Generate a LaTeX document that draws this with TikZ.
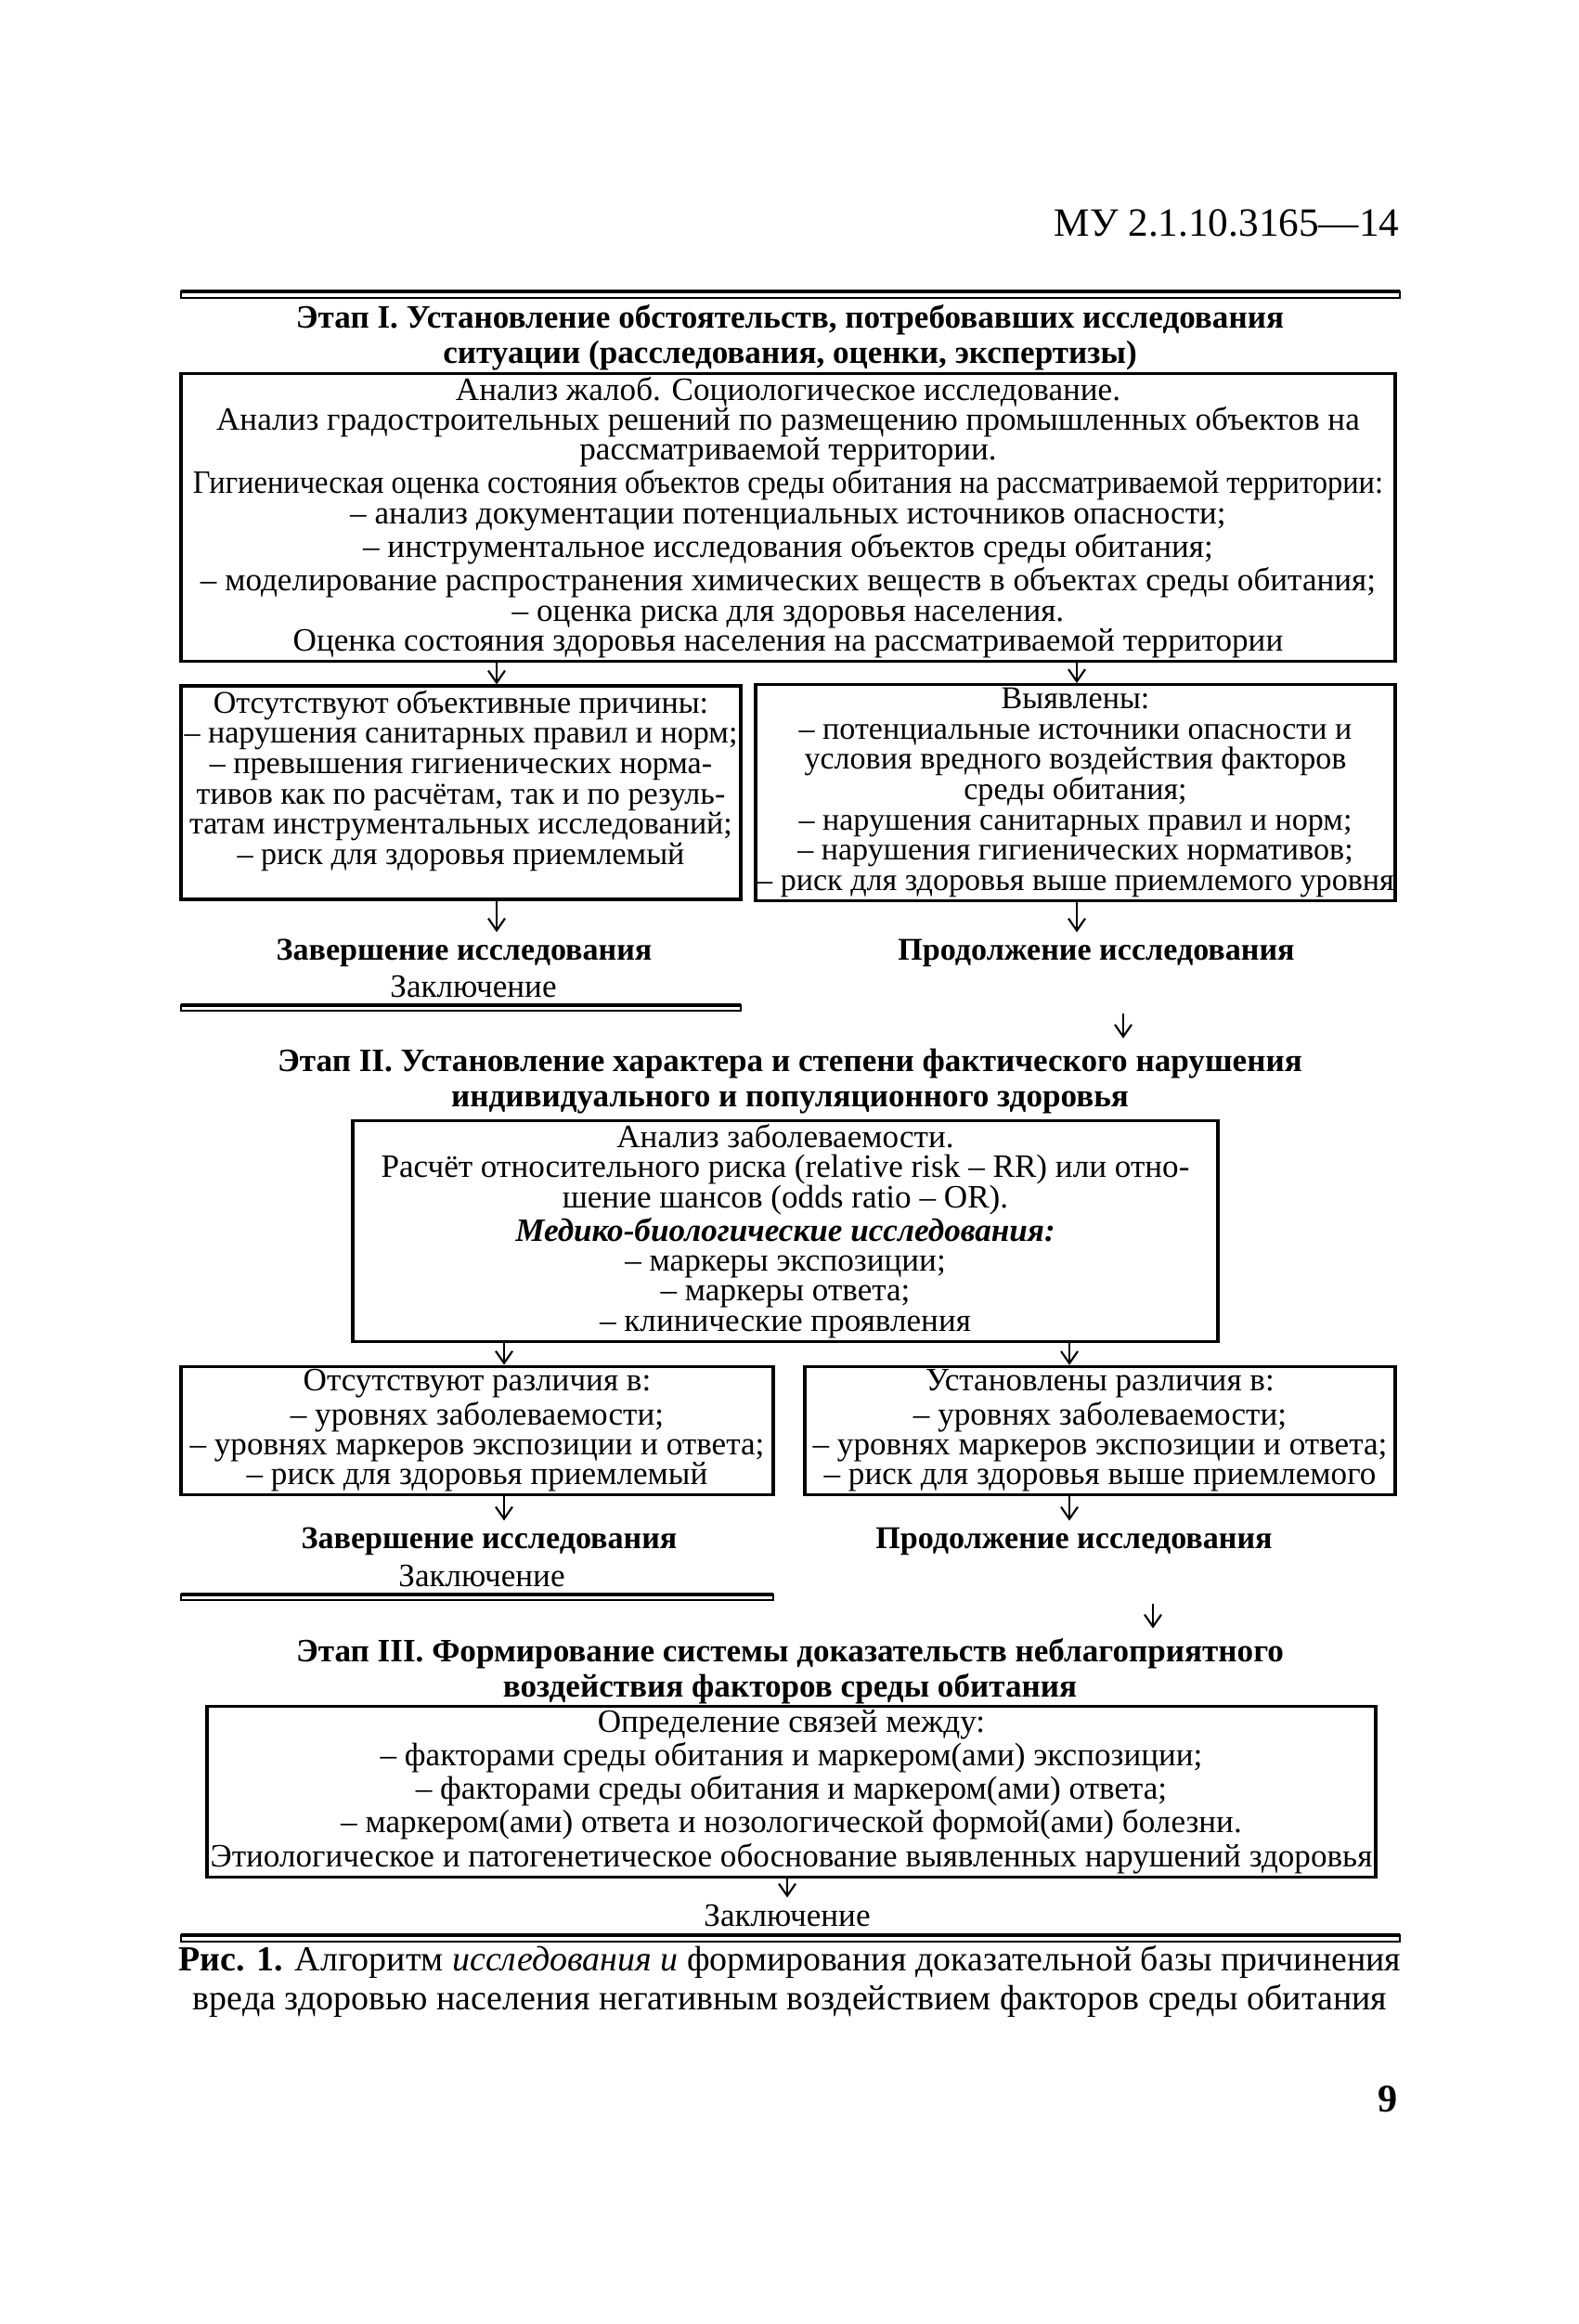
\documentclass[tikz,border=0pt]{standalone}
\usepackage{fontspec}
\setmainfont{Liberation Serif}
\usepackage{graphicx}
\usetikzlibrary{arrows.meta,positioning}

\begin{document}
\begin{tikzpicture}[
 block/.style={draw,line width=0.9pt,align=center,inner sep=1pt,
 font=\fontsize{10}{9.2}\selectfont},
 stage/.style={align=center,inner sep=0pt,font=\fontsize{10}{10.8}\selectfont\bfseries},
 note/.style={inner sep=0pt,font=\fontsize{10}{10}\selectfont},
 rulebar/.style={draw,line width=0.5pt},
 flow/.style={-{Straight Barb[length=1.3mm,width=1.8mm]},line width=0.6pt}]
\useasboundingbox (0,0) rectangle (17,-25.04);
% columns of the arrows
\coordinate (colA) at (5.35,0);
\coordinate (colB) at (11.60,0);
\coordinate (colC) at (5.43,0);
\coordinate (colD) at (11.52,0);
\coordinate (colE) at (8.48,0);

\node[note,anchor=east,font=\fontsize{12.3}{13}\selectfont] (docno) at (15.08,-2.40) {МУ 2.1.10.3165—14};
\draw[rulebar] (1.95,-3.14) rectangle (15.08,-3.21);
\draw[line width=1.4pt] (1.95,-3.14) -- (15.08,-3.14);

% stage I
\node[stage] (stage1) at (8.51,-3.64) {Этап I. Установление обстоятельств, потребовавших исследования\\ситуации (расследования, оценки, экспертизы)};
\node[block,minimum width=13.08cm,minimum height=2.95cm] (survey) at (8.49,-5.575)
 {Анализ жалоб. Социологическое исследование.\\
 Анализ градостроительных решений по размещению промышленных объектов на\\
 рассматриваемой территории.\\
 \scalebox{0.925}[1]{Гигиеническая оценка состояния объектов среды обитания на рассматриваемой территории:}\\
 – анализ документации потенциальных источников опасности;\\
 – инструментальное исследования объектов среды обитания;\\
 – моделирование распространения химических веществ в объектах среды обитания;\\
 – оценка риска для здоровья населения.\\
 Оценка состояния здоровья населения на рассматриваемой территории};
\node[block,inner xsep=0pt,font=\fontsize{9.7}{9.3}\selectfont,minimum width=6.03cm,minimum height=2.30cm] (nocause) at (4.965,-8.54)
 {Отсутствуют объективные причины:\\
 – нарушения санитарных правил и норм;\\
 – превышения гигиенических норма-\\
 тивов как по расчётам, так и по резуль-\\
 татам инструментальных исследований;\\
 – риск для здоровья приемлемый\\ \mbox{}};
\node[block,inner xsep=0pt,font=\fontsize{9.7}{9.3}\selectfont,minimum width=6.89cm,minimum height=2.30cm] (found) at (11.585,-8.54)
 {Выявлены:\\
 – потенциальные источники опасности и\\
 условия вредного воздействия факторов\\
 среды обитания;\\
 – нарушения санитарных правил и норм;\\
 – нарушения гигиенических нормативов;\\
 – риск для здоровья выше приемлемого уровня};
\node[note,font=\fontsize{9.7}{10}\selectfont\bfseries] (stop1) at (5.00,-10.27) {Завершение исследования};
\node[note] (concl1) at (5.10,-10.63) {Заключение};
\draw[rulebar] (1.95,-10.83) rectangle (7.98,-10.89);
\draw[line width=1.4pt] (1.95,-10.83) -- (7.98,-10.83);
\node[note,font=\fontsize{9.7}{10}\selectfont\bfseries] (go1) at (11.81,-10.27) {Продолжение исследования};
\coordinate (go1down) at (12.10,-10.92);
\draw[flow] (survey.south -| colA) -- (nocause.north -| colA);
\draw[flow] (survey.south -| colB) -- (found.north -| colB);
\draw[flow] (nocause.south -| colA) -- ([yshift=2pt]stop1.north -| colA);
\draw[flow] (found.south -| colB) -- ([yshift=2pt]go1.north -| colB);

% stage II
\node[stage] (stage2) at (8.51,-11.65) {Этап II. Установление характера и степени фактического нарушения\\индивидуального и популяционного здоровья};
\draw[flow] (go1down) -- ([yshift=3pt]stage2.north -| go1down);
\node[block,minimum width=9.32cm,minimum height=2.27cm] (morbid) at (8.46,-13.265)
 {Анализ заболеваемости.\\
 Расчёт относительного риска (relative risk – RR) или отно-\\
 шение шансов (odds ratio – OR).\\
 \textbf{\textit{Медико-биологические исследования:}}\\
 – маркеры экспозиции;\\
 – маркеры ответа;\\
 – клинические проявления};
\node[block,minimum width=6.38cm,minimum height=1.31cm] (nodiff) at (5.14,-15.415)
 {Отсутствуют различия в:\\
 – уровнях заболеваемости;\\
 – уровнях маркеров экспозиции и ответа;\\
 – риск для здоровья приемлемый};
\node[block,minimum width=6.36cm,minimum height=1.31cm] (diff) at (11.85,-15.415)
 {Установлены различия в:\\
 – уровнях заболеваемости;\\
 – уровнях маркеров экспозиции и ответа;\\
 – риск для здоровья выше приемлемого};
\node[note,font=\fontsize{9.7}{10}\selectfont\bfseries] (stop2) at (5.27,-16.61) {Завершение исследования};
\node[note] (concl2) at (5.19,-16.98) {Заключение};
\draw[rulebar] (1.95,-17.18) rectangle (8.33,-17.24);
\draw[line width=1.4pt] (1.95,-17.18) -- (8.33,-17.18);
\node[note,font=\fontsize{9.7}{10}\selectfont\bfseries] (go2) at (11.57,-16.61) {Продолжение исследования};
\coordinate (go2down) at (12.42,-17.28);
\draw[flow] (morbid.south -| colC) -- (nodiff.north -| colC);
\draw[flow] (morbid.south -| colD) -- (diff.north -| colD);
\draw[flow] (nodiff.south -| colC) -- ([yshift=2pt]stop2.north -| colC);
\draw[flow] (diff.south -| colD) -- ([yshift=2pt]go2.north -| colD);

% stage III
\node[stage] (stage3) at (8.51,-18.01) {Этап III. Формирование системы доказательств неблагоприятного\\воздействия факторов среды обитания};
\draw[flow] (go2down) -- ([yshift=3pt]stage3.north -| go2down);
\node[block,minimum width=12.35cm,minimum height=1.67cm] (links) at (8.525,-19.305)
 {Определение связей между:\\
 – факторами среды обитания и маркером(ами) экспозиции;\\
 – факторами среды обитания и маркером(ами) ответа;\\
 – маркером(ами) ответа и нозологической формой(ами) болезни.\\
 Этиологическое и патогенетическое обоснование выявленных нарушений здоровья};
\node[note] (concl3) at (8.48,-20.64) {Заключение};
\draw[flow] (links.south -| colE) -- ([yshift=2pt]concl3.north -| colE);
\draw[rulebar] (1.95,-20.85) rectangle (15.08,-20.92);
\draw[line width=1.4pt] (1.95,-20.85) -- (15.08,-20.85);

\node[note,align=center,font=\fontsize{10.8}{11.8}\selectfont] (caption) at (8.51,-21.35)
 {\textbf{Рис. 1.} Алгоритм \textit{исследования и} формирования доказательной базы причинения\\
 вреда здоровью населения негативным воздействием факторов среды обитания};
\node[note,font=\fontsize{12}{12}\selectfont\bfseries] (pageno) at (14.95,-22.62) {9};
\end{tikzpicture}
\end{document}
